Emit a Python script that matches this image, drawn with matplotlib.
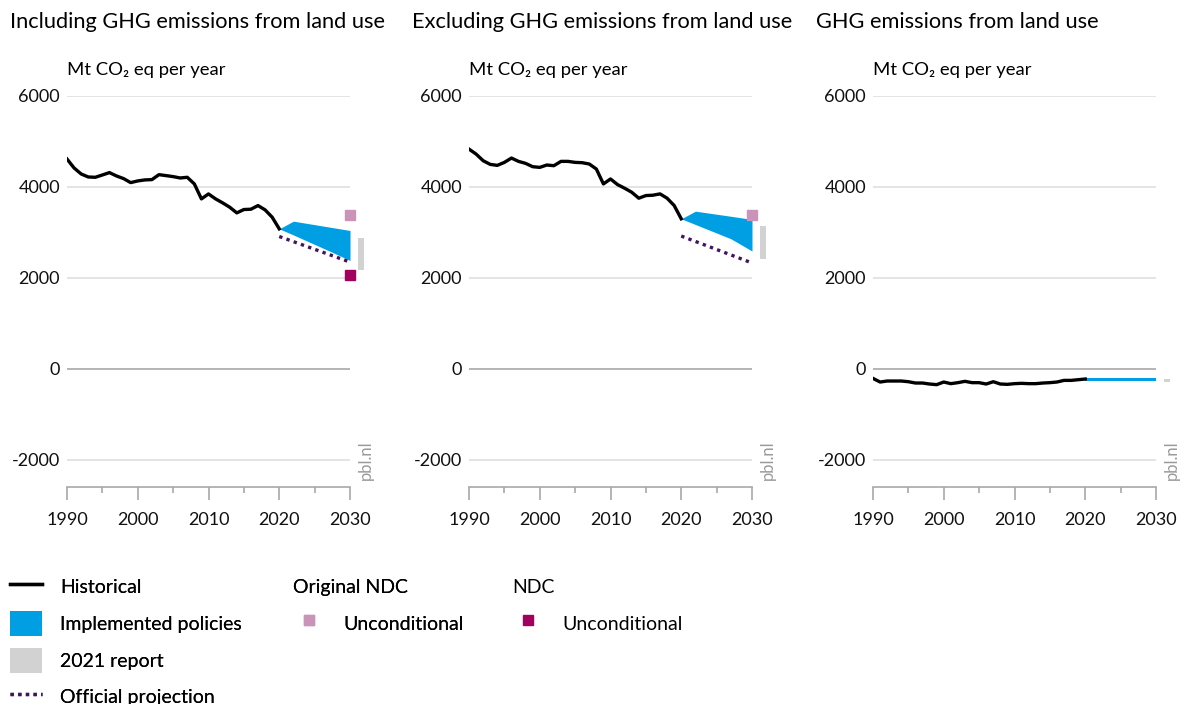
import matplotlib
matplotlib.use('Agg')
import matplotlib.pyplot as plt
from matplotlib.lines import Line2D
from matplotlib.patches import Patch
import numpy as np

plt.rcParams['font.family'] = ['Lato', 'DejaVu Sans']
plt.rcParams['axes.unicode_minus'] = False

years = np.arange(1990, 2021)

# historical emissions, Mt CO2 eq per year
hist_incl = [4614, 4417, 4285, 4219, 4212, 4263, 4315, 4241, 4183, 4095,
             4132, 4154, 4161, 4270, 4249, 4227, 4197, 4212, 4066, 3737,
             3846, 3737, 3649, 3554, 3429, 3503, 3510, 3590, 3495, 3334, 3078]
hist_excl = [4832, 4723, 4577, 4496, 4474, 4540, 4635, 4562, 4518, 4445,
             4430, 4482, 4467, 4562, 4562, 4540, 4533, 4504, 4394, 4066,
             4175, 4051, 3971, 3883, 3752, 3810, 3818, 3847, 3752, 3591, 3299]
hist_lulucf = [-211, -291, -269, -269, -269, -284, -313, -313, -335, -349,
               -291, -327, -305, -276, -305, -305, -335, -284, -335, -342,
               -327, -320, -327, -327, -313, -305, -291, -255, -255, -240, -225]

# implemented policies range
pol_years = [2020, 2022, 2027, 2030]
pol_high = {
    'incl': [3078, 3247, 3119, 3042],
    'excl': [3299, 3467, 3355, 3285],
    'lulucf': [-192, -192, -192, -192],
}
pol_low = {
    'incl': [3078, 2944, 2597, 2383],
    'excl': [3299, 3174, 2861, 2591],
    'lulucf': [-258, -258, -258, -258],
}

# official projection
proj_years = [2020, 2030]
proj = {
    'incl': [2910, 2347],
    'excl': [2920, 2328],
}

# 2021 report range (2030)
report_2021 = {
    'incl': (2164, 2881),
    'excl': (2423, 3139),
    'lulucf': (-290, -235),
}

# NDC targets 2030
orig_ndc_uncond = {'incl': 3385, 'excl': 3387}
ndc_uncond = {'incl': 2069}

panels = ['incl', 'excl', 'lulucf']
titles = ['Including GHG emissions from land use',
          'Excluding GHG emissions from land use',
          'GHG emissions from land use']
hist = {'incl': hist_incl, 'excl': hist_excl, 'lulucf': hist_lulucf}

c_hist = '#000000'
c_pol = '#009fe3'
c_report = '#d2d2d2'
c_proj = '#42145f'
c_orig = '#c994b8'
c_ndc = '#a0005e'
c_grid = '#dcdcdc'
c_axis = '#a8a8a8'
dots = (0, (1, 1.3))

W, H = 1183, 704
fig = plt.figure(figsize=(W / 100, H / 100), dpi=100)

lefts = [67, 469, 873]
for i, key in enumerate(panels):
    ax = fig.add_axes([lefts[i] / W, (H - 487) / H, 283 / W, (487 - 96) / H])
    ax.set_xlim(1990, 2030)
    ax.set_ylim(-2600, 6000)
    for s in ['top', 'right', 'left']:
        ax.spines[s].set_visible(False)
    ax.spines['bottom'].set_color(c_axis)
    ax.spines['bottom'].set_linewidth(1.2)
    ax.set_yticks([-2000, 0, 2000, 4000, 6000])
    ax.set_xticks([1990, 2000, 2010, 2020, 2030])
    ax.set_xticks(np.arange(1995, 2030, 10), minor=True)
    ax.tick_params(axis='y', length=0, pad=5, labelsize=13, labelcolor='#111111')
    ax.tick_params(axis='x', which='major', length=9, width=1.2, color=c_axis,
                   pad=9, labelsize=13, labelcolor='#111111')
    ax.tick_params(axis='x', which='minor', length=4.5, width=1.2, color=c_axis)
    for yv in [-2000, 2000, 4000, 6000]:
        ax.axhline(yv, color=c_grid, lw=1.1, zorder=0)
    ax.axhline(0, color='#a0a0a0', lw=1.1, zorder=0)

    ax.fill_between(pol_years, pol_low[key], pol_high[key], color=c_pol,
                    lw=0, zorder=2)
    if key in proj:
        ax.plot(proj_years, proj[key], color=c_proj, lw=2.4,
                linestyle=dots, zorder=3)
    ax.plot(years, hist[key], color=c_hist, lw=2.4, zorder=4,
            solid_joinstyle='round')

    lo, hi = report_2021[key]
    ax.bar(2031.55, hi - lo, bottom=lo, width=0.95, color=c_report,
           clip_on=False, zorder=2)
    if key in orig_ndc_uncond:
        ax.plot(2030, orig_ndc_uncond[key], 's', color=c_orig, ms=7,
                clip_on=False, zorder=5)
    if key in ndc_uncond:
        ax.plot(2030, ndc_uncond[key], 's', color=c_ndc, ms=7,
                clip_on=False, zorder=5)

    ax.text(1.055, 0.018, 'pbl.nl', transform=ax.transAxes, rotation=90,
            ha='center', va='bottom', fontsize=12, color='#9a9a9a')
    fig.text((lefts[i] - 57) / W, 1 - 22 / H, titles[i], fontsize=15.7,
             ha='left', va='center', color='#000000')
    fig.text(lefts[i] / W, 1 - 70 / H, 'Mt CO\u2082 eq per year', fontsize=13.3,
             ha='left', va='center', color='#000000')

# legends
leg_kw = dict(frameon=False, fontsize=14, handlelength=1.65, handleheight=1.64,
              handletextpad=0.93, borderpad=0, borderaxespad=0)

h1 = [Line2D([], [], color=c_hist, lw=2.4),
      Patch(color=c_pol, lw=0),
      Patch(color=c_report, lw=0),
      Line2D([], [], color=c_proj, lw=2.4, linestyle=dots)]
l1 = ['Historical', 'Implemented policies', '2021 report', 'Official projection']
leg1 = fig.legend(h1, l1, loc='upper left', bbox_to_anchor=(10 / W, 1 - 574 / H),
                  labelspacing=0.58, **leg_kw)
fig.add_artist(leg1)

h2 = [Line2D([], [], marker='s', color=c_orig, ms=7, lw=0)]
leg2 = fig.legend(h2, ['Unconditional'], title='Original NDC', alignment='left',
                  loc='upper left', bbox_to_anchor=(293 / W, 1 - 579 / H),
                  title_fontsize=14, labelspacing=0.75, **leg_kw)
fig.add_artist(leg2)

h3 = [Line2D([], [], marker='s', color=c_ndc, ms=7, lw=0)]
fig.legend(h3, ['Unconditional'], title='NDC', alignment='left',
           loc='upper left', bbox_to_anchor=(512 / W, 1 - 579 / H),
           title_fontsize=14, labelspacing=0.75, **leg_kw)

fig.savefig('out.png', dpi=100)
